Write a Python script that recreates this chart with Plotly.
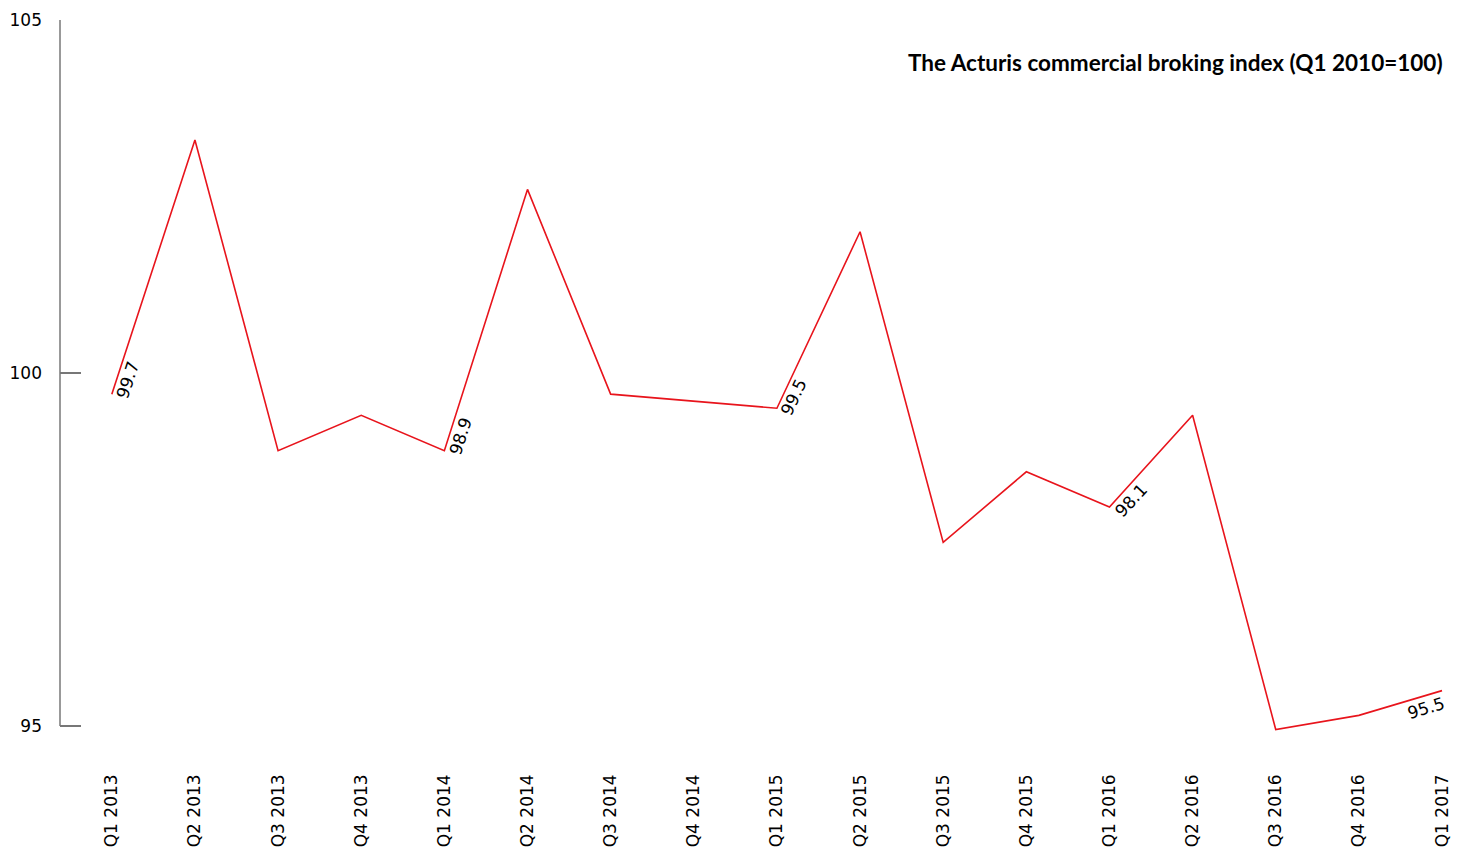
import plotly.graph_objects as go

quarters = ["Q1 2013", "Q2 2013", "Q3 2013", "Q4 2013",
            "Q1 2014", "Q2 2014", "Q3 2014", "Q4 2014",
            "Q1 2015", "Q2 2015", "Q3 2015", "Q4 2015",
            "Q1 2016", "Q2 2016", "Q3 2016", "Q4 2016",
            "Q1 2017"]
index_values = [99.7, 103.3, 98.9, 99.4,
                98.9, 102.6, 99.7, 99.6,
                99.5, 102.0, 97.6, 98.6,
                98.1, 99.4, 94.95, 95.15,
                95.5]
label_idx = [0, 4, 8, 12, 16]
label_text = ["99.7", "98.9", "99.5", "98.1", "95.5"]
label_angle = [-72, -72, -65, -47, -17]
label_dx = [16, 16, 17, 22, -16]
label_dy = [14, 15, 11, 7, -17]

y_ticks = [95, 100, 105]

RED = "#e8141c"
GREY = "#777777"
FONT = "DejaVu Sans"

x = list(range(len(quarters)))

fig = go.Figure()
fig.add_trace(go.Scatter(x=x, y=index_values, mode="lines",
                         line=dict(color=RED, width=1.6),
                         hoverinfo="skip", showlegend=False))

for i, t, a, dx, dy in zip(label_idx, label_text, label_angle, label_dx, label_dy):
    fig.add_annotation(x=x[i], y=index_values[i], text=t, textangle=a,
                       showarrow=False, xshift=dx, yshift=dy,
                       font=dict(family=FONT, size=17, color="#000"))

# y axis line from 95 to 105
fig.add_shape(type="line", xref="paper", yref="y", x0=0, x1=0,
              y0=min(y_ticks), y1=max(y_ticks),
              line=dict(color=GREY, width=1.5))

fig.add_annotation(xref="paper", yref="y", x=1.0, y=104.4, xshift=-6,
                   xanchor="right", yanchor="middle", showarrow=False,
                   text="<b>The Acturis commercial broking index (Q1 2010=100)</b>",
                   font=dict(family="Lato", size=22.5, color="#000"))

fig.update_layout(
    width=1462, height=857,
    margin=dict(l=55, r=10, t=14, b=115, pad=0),
    paper_bgcolor="white", plot_bgcolor="white",
    xaxis=dict(range=[-0.623, 16.108], tickmode="array", tickvals=x,
               ticktext=quarters, tickangle=-90, showgrid=False,
               zeroline=False, showline=False, ticks="",
               ticklabelstandoff=37,
               tickfont=dict(family=FONT, size=17, color="#000")),
    yaxis=dict(range=[94.9, 105.014], tickmode="array", tickvals=y_ticks,
               showgrid=False, zeroline=False, showline=False,
               ticks="inside", ticklen=21, tickwidth=1.5, tickcolor=GREY,
               ticklabelstandoff=17,
               tickfont=dict(family=FONT, size=17, color="#000")),
)

fig.write_html("out.html",
               config={"displayModeBar": False},
               post_script="document.body.style.margin='0';"
                           "document.body.style.overflow='hidden';")
